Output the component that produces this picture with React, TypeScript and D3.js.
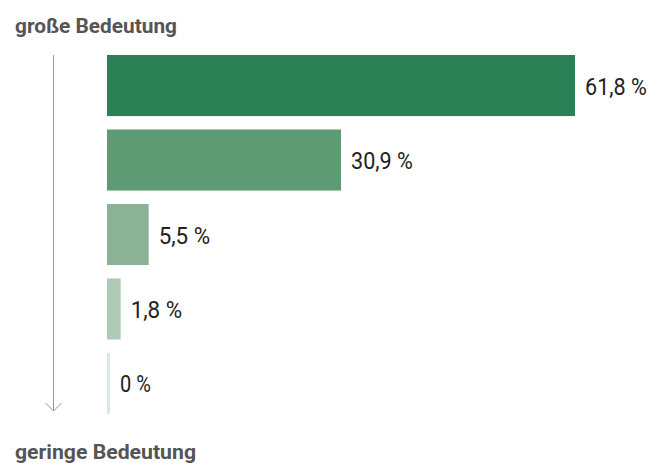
import React from "react";
import * as d3 from "d3";

const categories = ["1", "2", "3", "4", "5"];
const values = [61.8, 30.9, 5.5, 1.8, 0];
const labels = ["61,8 %", "30,9 %", "5,5 %", "1,8 %", "0 %"];
const colors = ["#2a8155", "#5e9a73", "#8bb296", "#aecab6", "#dde8e0"];
const topLabel = "große Bedeutung";
const bottomLabel = "geringe Bedeutung";

export default function App() {
  const W = 653, H = 463;
  const x = d3.scaleLinear().domain([0, 61.8]).range([107, 575]);
  const y = d3.scaleBand().domain(categories).range([55, 414]).paddingInner(0.18).paddingOuter(0);
  const font = "Roboto, 'Liberation Sans', sans-serif";
  return (
    <svg width={W} height={H} style={{ position: "absolute", left: 0, top: 0 }}>
      <text x={15} y={33} fontFamily={font} fontWeight="bold" fontSize={21} fill="#555" textLength={162} lengthAdjust="spacingAndGlyphs">{topLabel}</text>
      <text x={15} y={459} fontFamily={font} fontWeight="bold" fontSize={21} fill="#555" textLength={181} lengthAdjust="spacingAndGlyphs">{bottomLabel}</text>
      <line x1={53.5} x2={53.5} y1={55} y2={411} stroke="#999" strokeWidth={1} />
      <polyline points="45.5,403 53.5,411 61.5,403" fill="none" stroke="#999" strokeWidth={1} />
      {categories.map((c, i) => {
        const w = Math.max(x(values[i]) - x(0), 3);
        const yy = y(c)!;
        const lw = labels[i].length * 10.3;
        return (
          <g key={c}>
            <rect x={x(0)} y={yy} width={w} height={y.bandwidth()} fill={colors[i]} />
            <text x={x(0) + w + 10} y={yy + y.bandwidth() / 2 + 9} fontFamily={font} fontSize={24} fill="#222" textLength={lw} lengthAdjust="spacingAndGlyphs">{labels[i]}</text>
          </g>
        );
      })}
    </svg>
  );
}
